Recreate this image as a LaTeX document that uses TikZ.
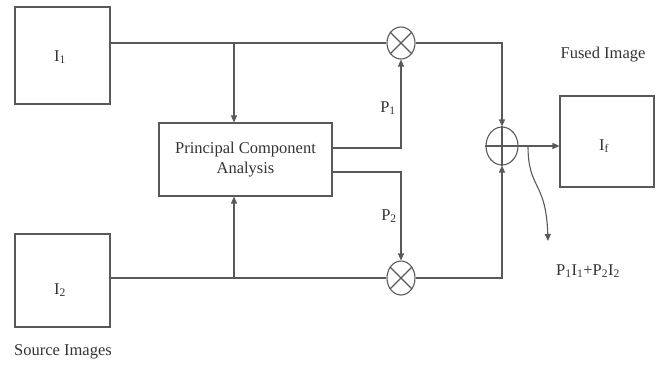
\documentclass[tikz,border=0pt]{standalone}
\usepackage{fontspec}
\setmainfont{Liberation Serif}
\usetikzlibrary{arrows.meta,shapes.geometric}
\tikzset{
  ln/.style={draw=black!65, line width=1.1pt},
  arr/.style={ln, -{Triangle[length=7pt,width=6pt]}},
  box/.style={ln, rectangle, inner sep=0pt},
  op/.style={ln, ellipse, inner sep=0pt},
  lbl/.style={text=black!80, font=\fontsize{16.5}{19}\selectfont, inner sep=0pt},
}
\begin{document}
\begin{tikzpicture}[x=1pt,y=-1pt]
\useasboundingbox (0,0) rectangle (660,365);
% boxes
\node[box, minimum width=95pt, minimum height=97pt] (I1) at (62.5,55.5) {};
\node[lbl] (I1t) at (60,57) {I\textsubscript{1}};
\node[box, minimum width=95pt, minimum height=93pt] (I2) at (62.5,280.5) {};
\node[lbl] (I2t) at (60,290) {I\textsubscript{2}};
\node[box, minimum width=173pt, minimum height=73pt, align=center, lbl, draw=black!65, line width=1.1pt] (PCA) at (245.5,159.5) {Principal Component\\[1pt]Analysis};
\node[box, minimum width=94pt, minimum height=91pt] (If) at (607,141.5) {};
\node[lbl] (Ift) at (604,146) {I\textsubscript{f}};
% operators
\node[op, minimum width=28pt, minimum height=32pt] (m1) at (401,43) {};
\node[op, minimum width=28pt, minimum height=34pt] (m2) at (401,278) {};
\node[op, minimum width=32pt, minimum height=38pt] (add) at (502,146) {};
\draw[ln] (m1.135) -- (m1.-45) (m1.45) -- (m1.-135);
\draw[ln] (m2.135) -- (m2.-45) (m2.45) -- (m2.-135);
\draw[ln] (add.west) -- (add.east) (add.north) -- (add.south);
% junctions
\coordinate (j1) at (234,43);
\coordinate (j2) at (234,278);
\coordinate (w0) at (528,146);
\coordinate (w1) at (548,241);
% connectors
\draw[ln] (I1.east |- m1) -- (m1.west);
\draw[arr] (j1) -- (PCA.north -| j1);
\draw[ln] (I2.east |- m2) -- (m2.west);
\draw[arr] (j2) -- (PCA.south -| j2);
\draw[arr] ([yshift=11.5pt]PCA.east) -| (m1.south);
\draw[arr] ([yshift=-12.5pt]PCA.east) -| (m2.north);
\draw[arr] (m1.east) -| (add.north);
\draw[arr] (m2.east) -| (add.south);
\draw[arr] (add.east) -- (If.west |- add.east);
\draw[arr] (w0) .. controls (528,190) and (546,180) .. (w1);
% labels
\node[lbl] (p1) at (388,108) {P\textsubscript{1}};
\node[lbl] (p2) at (389,216) {P\textsubscript{2}};
\node[lbl] (fused) at (603,55) {Fused Image};
\node[lbl] (src) at (63,352) {Source Images};
\node[lbl] (sum) at (588,271) {P\textsubscript{1}I\textsubscript{1}+P\textsubscript{2}I\textsubscript{2}};
\end{tikzpicture}
\end{document}
